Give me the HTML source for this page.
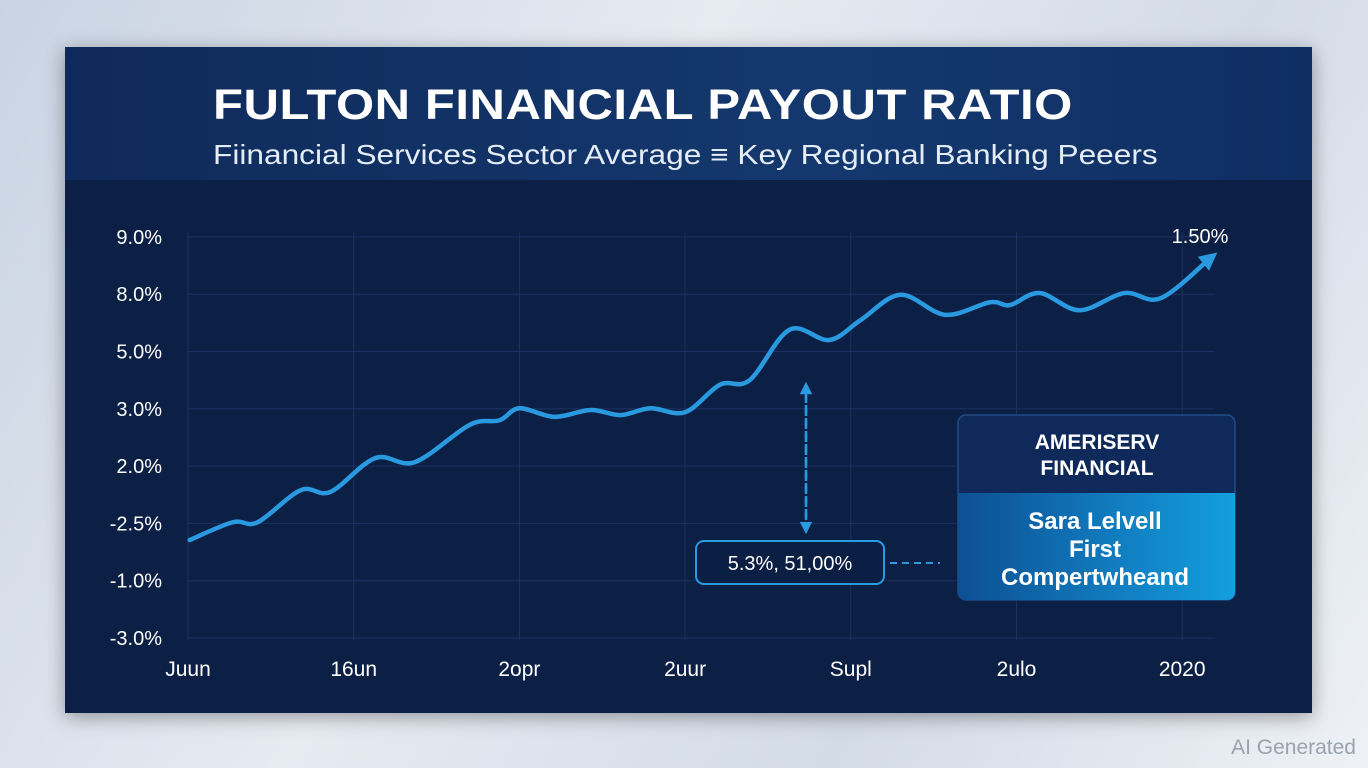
<!DOCTYPE html>
<html><head><meta charset="utf-8"><style>
html,body{margin:0;padding:0}
body{width:1368px;height:768px;overflow:hidden;background:linear-gradient(120deg,#c9d3e2 0%,#e6ebf2 40%,#d3dbe7 70%,#eef1f6 100%);font-family:"Liberation Sans",sans-serif;position:relative}
#panel{position:absolute;left:65px;top:47px;width:1247px;height:666px;background:#0c1f45;box-shadow:0 4px 18px rgba(0,0,0,.35)}
#header{position:absolute;left:0;top:0;width:1247px;height:133px;background:linear-gradient(90deg,#0f2a5a,#14386e 60%,#0f2f63)}
h1{position:absolute;left:148px;top:34px;margin:0;color:#fff;font-size:43px;font-weight:bold;letter-spacing:0.5px;transform:scaleX(1.14);transform-origin:0 0;white-space:nowrap}
.sub{position:absolute;left:148px;top:92px;color:#e4ecf6;font-size:28px;transform:scaleX(1.13);transform-origin:0 0;white-space:nowrap}
svg{position:absolute;left:0;top:0}
.ai{position:absolute;right:12px;bottom:8px;color:#9aa3ae;font-size:21px}
</style></head><body>
<div id="panel">
<div id="header">
<h1>FULTON FINANCIAL PAYOUT RATIO</h1>
<div class="sub">Fiinancial Services Sector Average ≡ Key Regional Banking Peeers</div>
</div>
</div>
<svg id="chart" width="1368" height="768">
<defs>
<linearGradient id="lg" x1="0" x2="1" y1="0" y2="0"><stop offset="0" stop-color="#0d4f93"/><stop offset="1" stop-color="#139fe0"/></linearGradient>
<marker id="ah" viewBox="0 0 10 10" refX="5" refY="5" markerWidth="4" markerHeight="4" orient="auto"><path d="M0,0L10,5L0,10z" fill="#2a9ae0"/></marker>
<marker id="ah2" viewBox="0 0 10 10" refX="5" refY="5" markerWidth="5" markerHeight="5" orient="auto"><path d="M0,0L10,5L0,10z" fill="#2a9ae0"/></marker>
</defs>
<g id="grid"></g><g id="axes"></g><g id="series"></g>
<line x1="806" y1="530" x2="806" y2="388" stroke="#2a9ae0" stroke-width="2.5" stroke-dasharray="8,5" marker-end="url(#ah2)"/>
<line x1="806" y1="395" x2="806" y2="528" stroke="#2a9ae0" stroke-width="2.5" stroke-dasharray="8,5" marker-end="url(#ah2)"/>
<rect x="696" y="541" width="188" height="43" rx="8" fill="#0b1e44" stroke="#2a9ae0" stroke-width="2"/>
<text x="790" y="570" fill="#fff" font-size="20" text-anchor="middle">5.3%, 51,00%</text>
<line x1="890" y1="563" x2="940" y2="563" stroke="#2a9ae0" stroke-width="2" stroke-dasharray="7,5"/>
<g>
<rect x="958" y="415" width="277" height="185" rx="8" fill="#0f2a5a" stroke="#1f4c86" stroke-width="1.5"/>
<path d="M958,493H1235V592a8,8 0 0 1-8,8H966a8,8 0 0 1-8-8Z" fill="url(#lg)"/>
<text x="1097" y="449" fill="#fff" font-size="21" font-weight="bold" text-anchor="middle">AMERISERV</text>
<text x="1097" y="475" fill="#fff" font-size="21" font-weight="bold" text-anchor="middle">FINANCIAL</text>
<text x="1095" y="529" fill="#fff" font-size="24" font-weight="bold" text-anchor="middle">Sara Lelvell</text>
<text x="1095" y="557" fill="#fff" font-size="24" font-weight="bold" text-anchor="middle">First</text>
<text x="1095" y="585" fill="#fff" font-size="24" font-weight="bold" text-anchor="middle">Compertwheand</text>
</g>
<text x="1200" y="243" fill="#fff" font-size="20" text-anchor="middle">1.50%</text>
</svg>
<div class="ai">AI Generated</div>
<script>
const yTickLabels=["-3.0%","-1.0%","-2.5%","2.0%","3.0%","5.0%","8.0%","9.0%"];
const xTickLabels=["Juun","16un","2opr","2uur","Supl","2ulo","2020"];
const xVals=[0.01,0.27,0.42,0.68,0.86,1.13,1.37,1.70,1.88,2.00,2.21,2.43,2.61,2.79,3.00,3.21,3.39,3.63,3.87,4.06,4.30,4.57,4.84,4.96,5.14,5.38,5.65,5.87,6.17];
const yVals=[1.71,2.02,2.02,2.58,2.55,3.14,3.07,3.72,3.80,4.01,3.86,3.98,3.89,4.01,3.94,4.42,4.50,5.38,5.20,5.55,5.99,5.64,5.86,5.81,6.02,5.72,6.02,5.93,6.63];
const NS="http://www.w3.org/2000/svg";
const X=v=>188+v*165.7, Y=v=>638-v*57.3;
const grid=document.getElementById('grid'),axes=document.getElementById('axes'),series=document.getElementById('series');
function mk(t,a,p){const e=document.createElementNS(NS,t);for(const k in a)e.setAttribute(k,a[k]);p.appendChild(e);return e;}
yTickLabels.forEach((l,i)=>{
 const g=mk('line',{x1:188,x2:1215,y1:Y(i),y2:Y(i),stroke:'#1a3260','stroke-width':1},grid);
 
 
 const t=mk('text',{x:162,y:Y(i)+7,fill:'#fff','font-size':20,'text-anchor':'end'},axes);t.textContent=l;
 
 
});
xTickLabels.forEach((l,i)=>{
 const g=mk('line',{x1:X(i),x2:X(i),y1:232,y2:640,stroke:'#1a3260','stroke-width':1},grid);
 
 
 const t=mk('text',{x:X(i),y:676,fill:'#fff','font-size':21,'text-anchor':'middle'},axes);t.textContent=l;
 
 
});
const pts=xVals.map((x,i)=>[X(x),Y(yVals[i])]);
let d='M'+pts[0][0]+','+pts[0][1];
for(let i=0;i<pts.length-1;i++){const p0=pts[i-1]||pts[i],p1=pts[i],p2=pts[i+1],p3=pts[i+2]||p2;
 d+=`C${p1[0]+(p2[0]-p0[0])/6},${p1[1]+(p2[1]-p0[1])/6} ${p2[0]-(p3[0]-p1[0])/6},${p2[1]-(p3[1]-p1[1])/6} ${p2[0]},${p2[1]}`;}
const line=mk('path',{d:d,fill:'none',stroke:'#2a9ae0','stroke-width':4.5,'stroke-linecap':'round','marker-end':'url(#ah)'},series);


</script>
</body></html>
